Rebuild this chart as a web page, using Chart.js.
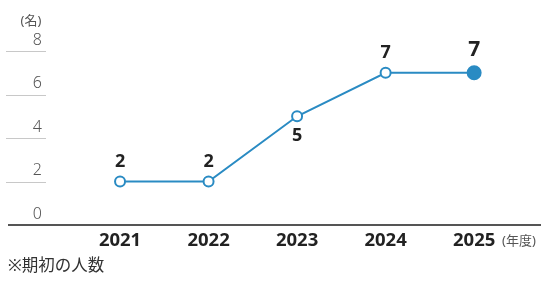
<!DOCTYPE html>
<html><head><meta charset="utf-8">
<script src="https://cdn.jsdelivr.net/npm/chart.js@4"></script>
<style>html,body{margin:0;padding:0;background:#fff}#wrap{width:551px;height:284px;position:relative}</style>
</head><body><div id="wrap"><canvas id="c" width="551" height="284"></canvas></div>
<script>
const years = [2021, 2022, 2023, 2024, 2025];
const members = [2, 2, 5, 7, 7];
const yTicks = [0, 2, 4, 6, 8];
const yUnit = '(名)';
const xUnit = '(年度)';
const note = '※期初の人数';
const labelBelow = [false, false, true, false, false];

const FONT = '"Noto Sans", "Noto Sans CJK JP", sans-serif';
const LINE = '#2a8bc3';

const decor = {
  id: 'decor',
  beforeDatasetsDraw(chart) {
    const ctx = chart.ctx, y = chart.scales.y;
    ctx.save();
    ctx.strokeStyle = '#c8c8c8'; ctx.lineWidth = 1;
    yTicks.forEach(v => {
      if (v === 0) return;
      const py = Math.round(y.getPixelForValue(v)) + 0.5;
      ctx.beginPath(); ctx.moveTo(6, py); ctx.lineTo(46, py); ctx.stroke();
    });
    ctx.fillStyle = '#555'; ctx.font = '300 16px ' + FONT;
    ctx.textAlign = 'right'; ctx.textBaseline = 'middle';
    yTicks.forEach(v => ctx.fillText(String(v), 42, y.getPixelForValue(v) - 11));
    ctx.font = '13px ' + FONT; ctx.textAlign = 'center';
    ctx.fillText(yUnit, 31, 21);
    ctx.textAlign = 'left';
    ctx.fillText(xUnit, 502, 241);
    ctx.fillStyle = '#333'; ctx.font = '16.5px ' + FONT;
    ctx.fillText(note, 8, 266);
    ctx.restore();
  },
  afterDatasetsDraw(chart) {
    const ctx = chart.ctx, meta = chart.getDatasetMeta(0);
    ctx.save();
    ctx.fillStyle = '#222'; ctx.textAlign = 'center'; ctx.textBaseline = 'middle';
    meta.data.forEach((pt, i) => {
      const last = i === members.length - 1;
      ctx.font = 'bold ' + (last ? 21 : 18) + 'px ' + FONT;
      const off = labelBelow[i] ? 20 : (last ? -23 : -20);
      ctx.fillText(String(members[i]), pt.x, pt.y + off);
    });
    ctx.restore();
  }
};

new Chart(document.getElementById('c'), {
  type: 'line',
  data: {
    datasets: [{
      data: years.map((yr, i) => ({x: yr, y: members[i]})),
      borderColor: LINE, borderWidth: 2,
      pointBackgroundColor: members.map((_, i) => i === members.length - 1 ? LINE : '#fff'),
      pointBorderColor: LINE,
      pointBorderWidth: 2,
      pointRadius: members.map((_, i) => i === members.length - 1 ? 6.5 : 5),
      tension: 0
    }]
  },
  options: {
    responsive: false, animation: false, devicePixelRatio: 1,
    layout: {padding: {top: 51, left: 6, right: 11, bottom: 0}},
    plugins: {legend: {display: false}, tooltip: {enabled: false}},
    scales: {
      x: {
        type: 'linear', min: 2019.74, max: 2025.744,
        afterBuildTicks: s => { s.ticks = years.map(v => ({value: v})); },
        afterFit: s => { s.height = 59; },
        grid: {display: false, drawTicks: false},
        border: {display: true, color: '#555', width: 2},
        ticks: {
          padding: 5, color: '#222', font: {family: FONT, size: 18.5, weight: 'bold'},
          callback: v => String(v), maxRotation: 0, autoSkip: false
        }
      },
      y: {display: false, min: 0, max: 8}
    }
  },
  plugins: [decor]
});
</script></body></html>
